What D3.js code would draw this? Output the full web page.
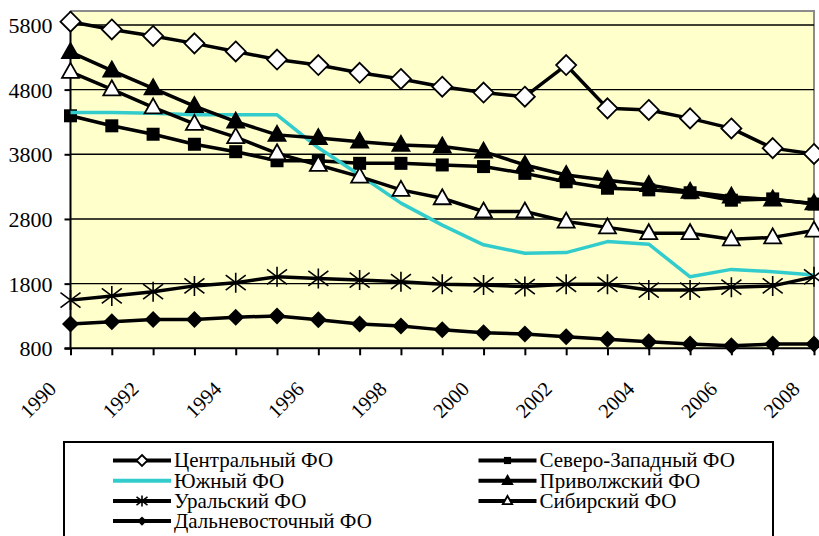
<!DOCTYPE html>
<html><head><meta charset="utf-8">
<script src="https://cdn.jsdelivr.net/npm/d3@7/dist/d3.min.js"></script>
<style>body{margin:0;background:#fff;}svg{display:block;}</style>
</head><body>
<svg id="c" width="819" height="536"></svg>
<script>
const years = [1990,1991,1992,1993,1994,1995,1996,1997,1998,1999,2000,2001,2002,2003,2004,2005,2006,2007,2008];
const yTicks = [800,1800,2800,3800,4800,5800];
const xLabels = [1990,1992,1994,1996,1998,2000,2002,2004,2006,2008];
const seriesNames = ["Центральный ФО","Северо-Западный ФО","Южный ФО","Приволжский ФО","Уральский ФО","Сибирский ФО","Дальневосточный ФО"];
const central = [5850,5730,5630,5515,5390,5265,5180,5060,4965,4845,4755,4690,5180,4510,4485,4355,4200,3895,3805];
const northwest = [4395,4240,4110,3955,3840,3700,3700,3660,3660,3635,3610,3505,3375,3275,3250,3205,3090,3110,3030];
const south = [4445,4445,4435,4410,4410,4410,3900,3480,3045,2705,2400,2270,2280,2450,2410,1905,2020,1985,1935];
const volga = [5380,5095,4820,4545,4305,4100,4050,3995,3945,3920,3840,3635,3480,3400,3325,3220,3145,3100,3040];
const ural = [1545,1610,1675,1765,1815,1905,1880,1855,1830,1790,1780,1755,1790,1790,1700,1700,1745,1765,1905];
const siberia = [5075,4805,4525,4270,4065,3815,3635,3455,3250,3120,2915,2915,2760,2670,2580,2580,2485,2515,2620];
const fareast = [1175,1210,1245,1245,1280,1300,1240,1175,1145,1085,1040,1020,980,940,900,865,840,865,865];

const seriesValues = [central, northwest, south, volga, ural, siberia, fareast];
const markers = ["diamondOpen","square","none","triangle","asterisk","triangleOpen","diamond"];
const colors = ["#000","#000","#33CCCC","#000","#000","#000","#000"];
const FONT = '"Liberation Serif"';

const svg = d3.select("#c");
const L = 70.5, R = 814, T = 11, B = 348.3;
const x = d3.scalePoint().domain(years).range([L, R]);
const y = d3.scaleLinear().domain([800, 6000]).range([B, T+1]);

svg.append("rect").attr("x", L).attr("y", T).attr("width", R-L).attr("height", B-T)
  .attr("fill", "#FFFFCC");
svg.append("path").attr("d", `M${L},${T}H${R}V${B}`).attr("fill","none")
  .attr("stroke","#8c8c8c").attr("stroke-width",2);

svg.append("g").selectAll("line").data(yTicks.filter(v => v > 800)).join("line")
  .attr("x1", L).attr("x2", R).attr("y1", d => y(d)).attr("y2", d => y(d))
  .attr("stroke", "#000").attr("stroke-width", 1.4);

const yAxis = svg.append("g").attr("transform", `translate(${L},0)`)
  .call(d3.axisLeft(y).tickValues(yTicks).tickSize(6).tickPadding(12).tickFormat(d3.format("d")));
yAxis.attr("font-family", FONT).attr("font-size", 22);
yAxis.select(".domain").attr("stroke","#000").attr("stroke-width",2).attr("d", `M-6,${B}H0V${T}`);
yAxis.selectAll(".tick line").attr("stroke","#000").attr("stroke-width",2);
yAxis.selectAll("text").attr("font-family", FONT).attr("font-size", 22).attr("fill","#000").attr("dy","0.34em");

const xAxis = svg.append("g").attr("transform", `translate(0,${B})`)
  .call(d3.axisBottom(x).tickSize(7).tickFormat(""));
xAxis.select(".domain").attr("stroke","#000").attr("stroke-width",2).attr("d", `M${L},0H${R}`);
xAxis.selectAll(".tick line").attr("stroke","#000").attr("stroke-width",2);
svg.append("g").selectAll("text").data(xLabels).join("text")
  .attr("transform", d => `translate(${x(d)-13},${B+42}) rotate(-45)`)
  .attr("text-anchor","end").attr("font-family", FONT).attr("font-size",20.5).attr("fill","#000")
  .text(d => d);

function drawMarker(g, type, s) {
  if (type === "diamondOpen") {
    const r = 10*s;
    g.append("path").attr("d", `M0,${-r}L${r},0L0,${r}L${-r},0Z`).attr("fill","#fff").attr("stroke","#000").attr("stroke-width",1.8);
  } else if (type === "diamond") {
    const r = 8.5*s;
    g.append("path").attr("d", `M0,${-r}L${r},0L0,${r}L${-r},0Z`).attr("fill","#000");
  } else if (type === "square") {
    const h = 6.5*s;
    g.append("rect").attr("x",-h).attr("y",-h).attr("width",2*h).attr("height",2*h).attr("fill","#000");
  } else if (type === "triangle" || type === "triangleOpen") {
    const w = 8.5*s, h = 15*s;
    g.append("path").attr("d", `M0,${-h*0.6}L${w},${h*0.4}L${-w},${h*0.4}Z`)
      .attr("fill", type === "triangle" ? "#000" : "#fff").attr("stroke","#000").attr("stroke-width",1.8);
  } else if (type === "asterisk") {
    const r = 10*s;
    g.append("path").attr("d", `M0,${-r}V${r}M${-r},${-r*0.75}L${r},${r*0.75}M${-r},${r*0.75}L${r},${-r*0.75}`)
      .attr("stroke","#000").attr("stroke-width",1.6).attr("fill","none");
  }
}

const line = d3.line().x((d,i) => x(years[i])).y(d => y(d));
seriesValues.forEach((vals, si) => {
  const g = svg.append("g");
  g.append("path").attr("d", line(vals)).attr("fill","none")
    .attr("stroke", colors[si]).attr("stroke-width", 3.5).attr("stroke-linejoin","round");
  if (markers[si] !== "none") {
    vals.forEach((v, i) => {
      const mg = g.append("g").attr("transform", `translate(${x(years[i])},${y(v)})`);
      drawMarker(mg, markers[si], 1);
    });
  }
});

const lg = svg.append("g");
lg.append("rect").attr("x",64).attr("y",442).attr("width",709).attr("height",120)
  .attr("fill","#fff").attr("stroke","#000").attr("stroke-width",2);
const colX = [113, 478.5];
seriesNames.forEach((name, si) => {
  const col = si % 2, row = Math.floor(si / 2);
  const lx = colX[col], ly = 460.5 + row*20.2;
  const item = lg.append("g");
  item.append("line").attr("x1", lx).attr("x2", lx+58).attr("y1", ly).attr("y2", ly)
    .attr("stroke", colors[si]).attr("stroke-width", 4);
  if (markers[si] !== "none") {
    drawMarker(item.append("g").attr("transform", `translate(${lx+29},${ly})`), markers[si], 0.55);
  }
  item.append("text").attr("x", lx+61).attr("y", ly).attr("dy","0.33em")
    .attr("font-family", FONT).attr("font-size",21).attr("fill","#000").text(name);
});
</script>
</body></html>
